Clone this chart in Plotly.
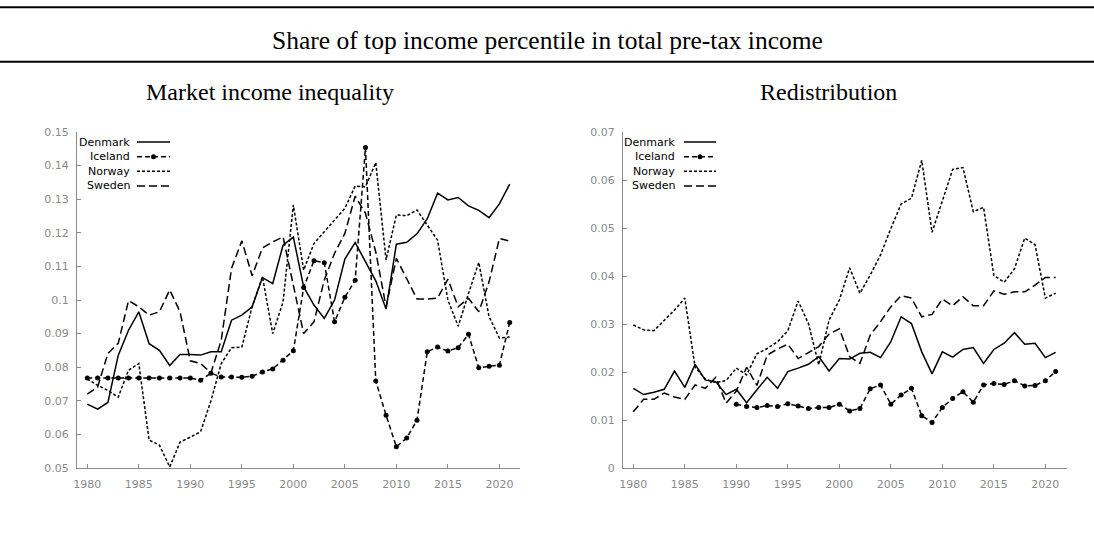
import plotly.graph_objects as go

years = list(range(1980, 2022))

# Market income inequality (left panel)
denmark_market = [0.069, 0.0675, 0.0695, 0.0835, 0.091, 0.0965, 0.087, 0.085, 0.0805, 0.0838,
                  0.0838, 0.0836, 0.0846, 0.0846, 0.094, 0.0955, 0.098, 0.1067, 0.1049, 0.1163,
                  0.1187, 0.1039, 0.0985, 0.0945, 0.1, 0.1122, 0.1171, 0.1114, 0.1057, 0.0973,
                  0.1166, 0.1172, 0.1197, 0.1242, 0.1318, 0.1298, 0.1305, 0.128, 0.1267, 0.1245,
                  0.1286, 0.1345]
iceland_market = [0.0768, 0.0768, 0.0768, 0.0768, 0.0768, 0.0768, 0.0768, 0.0768, 0.0768, 0.0768,
                  0.0768, 0.0761, 0.0782, 0.0771, 0.0771, 0.0770, 0.0773, 0.0786, 0.0795, 0.0821,
                  0.0849, 0.1037, 0.1117, 0.1111, 0.0935, 0.1008, 0.1059, 0.1454, 0.0759, 0.0657,
                  0.0563, 0.0589, 0.0642, 0.0846, 0.086, 0.0848, 0.0858, 0.0898, 0.0798, 0.0803,
                  0.0806, 0.0933]
norway_market = [0.0765, 0.0746, 0.0731, 0.0711, 0.0791, 0.0811, 0.0583, 0.0568, 0.0503, 0.0577,
                 0.0592, 0.0608, 0.0700, 0.0811, 0.0858, 0.0860, 0.0980, 0.1069, 0.0900, 0.0994,
                 0.1283, 0.1089, 0.1168, 0.1203, 0.1238, 0.1273, 0.1339, 0.1337, 0.1409, 0.1119,
                 0.1253, 0.1251, 0.1268, 0.1223, 0.1178, 0.1000, 0.0922, 0.1019, 0.1112, 0.0950,
                 0.0887, 0.0890]
sweden_market = [0.0720, 0.0741, 0.0841, 0.0871, 0.0998, 0.0980, 0.0955, 0.0965, 0.1030, 0.0965,
                 0.0819, 0.0811, 0.0783, 0.0880, 0.1094, 0.1176, 0.1072, 0.1155, 0.1173, 0.1188,
                 0.1044, 0.0900, 0.0935, 0.1059, 0.1139, 0.1198, 0.1309, 0.1258, 0.1143, 0.0980,
                 0.1124, 0.1064, 0.1003, 0.1003, 0.1006, 0.1062, 0.0980, 0.1005, 0.0965, 0.1054,
                 0.1183, 0.1175]

# Redistribution (right panel)
denmark_redis = [0.0166, 0.0153, 0.0158, 0.0164, 0.0202, 0.0168, 0.0216, 0.0183, 0.0180, 0.0153,
                 0.0164, 0.0136, 0.0163, 0.0189, 0.0166, 0.0201, 0.0208, 0.0216, 0.0232, 0.0202,
                 0.0228, 0.0227, 0.0239, 0.0241, 0.0230, 0.0263, 0.0315, 0.0301, 0.0242, 0.0196,
                 0.0242, 0.0231, 0.0247, 0.0251, 0.0218, 0.0247, 0.0260, 0.0282, 0.0258, 0.0260,
                 0.0230, 0.0241]
iceland_redis = [None] * 10 + [
                 0.0133, 0.0128, 0.0126, 0.0130, 0.0128, 0.0134, 0.0129, 0.0124, 0.0126, 0.0126,
                 0.0133, 0.0119, 0.0124, 0.0165, 0.0173, 0.0133, 0.0152, 0.0166, 0.0109, 0.0095,
                 0.0126, 0.0145, 0.0159, 0.0137, 0.0173, 0.0176, 0.0174, 0.0182, 0.0171, 0.0172,
                 0.0182, 0.0201]
norway_redis = [0.0298, 0.0288, 0.0286, 0.0308, 0.0329, 0.0354, 0.0210, 0.0185, 0.0178, 0.0182,
                0.0208, 0.0194, 0.0238, 0.0249, 0.0263, 0.0286, 0.0348, 0.0301, 0.0215, 0.0308,
                0.0350, 0.0417, 0.0364, 0.0402, 0.0444, 0.0499, 0.0550, 0.0562, 0.0641, 0.0491,
                0.0558, 0.0622, 0.0626, 0.0534, 0.0543, 0.0401, 0.0387, 0.0415, 0.0479, 0.0465,
                0.0354, 0.0364]
sweden_redis = [0.0117, 0.0143, 0.0143, 0.0156, 0.0148, 0.0143, 0.0173, 0.0166, 0.0189, 0.0135,
                0.0160, 0.0210, 0.0172, 0.0235, 0.0248, 0.0258, 0.0228, 0.0241, 0.0253, 0.0279,
                0.0290, 0.0232, 0.0218, 0.0277, 0.0305, 0.0336, 0.0359, 0.0354, 0.0315, 0.0320,
                0.0352, 0.0338, 0.0357, 0.0338, 0.0338, 0.0369, 0.0362, 0.0367, 0.0367, 0.0381,
                0.0397, 0.0397]

countries = ["Denmark", "Iceland", "Norway", "Sweden"]
x_ticks = [1980, 1985, 1990, 1995, 2000, 2005, 2010, 2015, 2020]
left_yticks = [0.05, 0.06, 0.07, 0.08, 0.09, 0.1, 0.11, 0.12, 0.13, 0.14, 0.15]
left_yticktext = ["0.05", "0.06", "0.07", "0.08", "0.09", "0.1", "0.11", "0.12", "0.13", "0.14", "0.15"]
right_yticks = [0, 0.01, 0.02, 0.03, 0.04, 0.05, 0.06, 0.07]
right_yticktext = ["0", "0.01", "0.02", "0.03", "0.04", "0.05", "0.06", "0.07"]

main_title = "Share of top income percentile in total pre-tax income"
panel_titles = ["Market income inequality", "Redistribution"]

W, H = 1094, 534
styles = {
    "Denmark": dict(dash="solid", marker=False),
    "Iceland": dict(dash="5px,3px", marker=True),
    "Norway": dict(dash="3px,2px", marker=False),
    "Sweden": dict(dash="8px,4px", marker=False),
}
LW = 1.5

fig = go.Figure()

panels = [
    ("x", "y", [denmark_market, iceland_market, norway_market, sweden_market]),
    ("x2", "y2", [denmark_redis, iceland_redis, norway_redis, sweden_redis]),
]
for xa, ya, series in panels:
    for name, vals in zip(countries, series):
        st = styles[name]
        fig.add_trace(go.Scatter(
            x=years, y=vals, xaxis=xa, yaxis=ya, name=name, showlegend=False,
            mode="lines+markers" if st["marker"] else "lines",
            line=dict(color="black", width=LW, dash=st["dash"]),
            marker=dict(color="black", size=5, symbol="circle"),
            connectgaps=False,
        ))

axis_common = dict(
    showline=True, linecolor="#8a8a8a", linewidth=1, mirror=False,
    ticks="inside", ticklen=4, tickcolor="#8a8a8a", tickwidth=1,
    showgrid=False, zeroline=False, automargin=False,
    tickfont=dict(family="DejaVu Sans", size=11, color="#8a8a8a"),
)

ybot = 1 - 468 / H
ytop = 1 - 132 / H
fig.update_layout(
    width=W, height=H,
    margin=dict(l=0, r=0, t=0, b=0, pad=0, autoexpand=False),
    paper_bgcolor="white", plot_bgcolor="white",
    showlegend=False,
    xaxis=dict(domain=[77 / W, 520 / W], range=[1979.0, 2022.0], tickvals=x_ticks,
               anchor="y", ticklabelstandoff=6, **axis_common),
    yaxis=dict(domain=[ybot, ytop], range=[0.05, 0.15], tickvals=left_yticks,
               ticktext=left_yticktext, anchor="x", ticklabelstandoff=5, **axis_common),
    xaxis2=dict(domain=[623 / W, 1067 / W], range=[1979.0, 2022.1], tickvals=x_ticks,
                anchor="y2", ticklabelstandoff=6, **axis_common),
    yaxis2=dict(domain=[ybot, ytop], range=[0, 0.07], tickvals=right_yticks,
                ticktext=right_yticktext, anchor="x2", ticklabelstandoff=5, **axis_common),
)

# Title rules
for ypix in (7.3, 61.7):
    fig.add_shape(type="line", xref="paper", yref="paper", x0=0, x1=1,
                  y0=1 - ypix / H, y1=1 - ypix / H, line=dict(color="black", width=2))

fig.add_annotation(text=main_title, xref="paper", yref="paper", x=0.5, y=1 - 41 / H,
                   xanchor="center", yanchor="middle", showarrow=False,
                   font=dict(family="Liberation Serif", size=25.5, color="black"))
for cx, t in zip((270, 828), panel_titles):
    fig.add_annotation(text=t, xref="paper", yref="paper", x=cx / W, y=1 - 92 / H,
                       xanchor="center", yanchor="middle", showarrow=False,
                       font=dict(family="Liberation Serif", size=24, color="black"))

# Manual legends (text left of line sample)
legend_rows = [142, 156.7, 171.3, 186]
for text_right, l0, l1 in ((132, 137, 170), (677, 684, 716)):
    for name, ypix in zip(countries, legend_rows):
        yp = 1 - ypix / H
        fig.add_annotation(text=name, xref="paper", yref="paper", x=text_right / W, y=yp,
                           xanchor="right", yanchor="middle", showarrow=False,
                           font=dict(family="DejaVu Sans", size=11, color="black"))
        st = styles[name]
        fig.add_shape(type="line", xref="paper", yref="paper", x0=l0 / W, x1=l1 / W, y0=yp, y1=yp,
                      line=dict(color="black", width=LW, dash=st["dash"]))
        if st["marker"]:
            fig.add_shape(type="circle", xref="paper", yref="paper",
                          xsizemode="pixel", ysizemode="pixel",
                          xanchor=(l0 + l1) / 2 / W, yanchor=yp,
                          x0=-2.5, x1=2.5, y0=-2.5, y1=2.5,
                          fillcolor="black", line=dict(color="black", width=0))

fig.write_html("out.html")
